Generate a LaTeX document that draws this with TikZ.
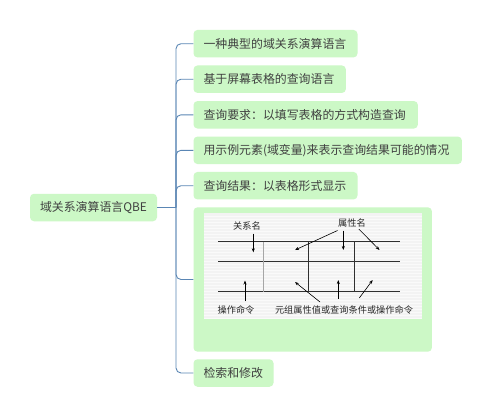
\documentclass[tikz,border=0pt]{standalone}
\usepackage{fontspec}
\setmainfont{Noto Sans CJK SC}
\newfontfamily\cjk{Noto Sans CJK SC}
\usetikzlibrary{arrows.meta}
\definecolor{boxgreen}{HTML}{CCF8C6}
\definecolor{conncol}{HTML}{5A86B4}
\definecolor{txtcol}{HTML}{404040}
\definecolor{figbg}{HTML}{F3F3F3}
\definecolor{figline}{HTML}{303030}
\tikzset{
  topicbox/.style={draw=none, fill=boxgreen, rounded corners=4pt, anchor=west,
    minimum height=27.5pt, inner xsep=10pt, inner ysep=0pt, align=left,
    text=txtcol, font=\cjk\fontsize{11.9}{13.5}\selectfont},
  conn/.style={draw=conncol, line width=0.9pt, rounded corners=5pt},
  tline/.style={draw=figline, line width=1.1pt},
  vline/.style={draw=figline, line width=0.8pt},
  figarrow/.style={draw=black, line width=0.6pt, -{Stealth[length=4pt,width=3pt]}},
  figlabel/.style={font=\cjk\fontsize{9.2}{10}\selectfont, text=black!85, inner sep=0pt}
}
\begin{document}
\begin{tikzpicture}[x=1pt,y=-1pt]
\useasboundingbox (0,0) rectangle (492,418);
\fill[white] (0,0) rectangle (492,418);

% root
\node[topicbox, anchor=center, minimum width=127pt] (root) at (93.5,207.5) {域关系演算语言QBE};
\coordinate (sp) at (176,207.5);

% children
\node[topicbox, text width=144pt] (c1) at (193.3,43.7) {一种典型的域关系演算语言};
\node[topicbox, text width=132.4pt] (c2) at (193.3,79.2) {基于屏幕表格的查询语言};
\node[topicbox, text width=204.4pt] (c3) at (193.3,114.8) {查询要求：以填写表格的方式构造查询};
\node[topicbox, text width=248.4pt] (c4) at (193.3,150.3) {用示例元素(域变量)来表示查询结果可能的情况};
\node[topicbox, text width=144pt] (c5) at (193.3,185.7) {查询结果：以表格形式显示};
\node[topicbox, minimum width=238.4pt, minimum height=144.4pt] (c6) at (193.3,279.5) {};
\node[topicbox, text width=60pt] (c7) at (193.3,373) {检索和修改};

% connectors
\draw[conn] (root.east) -- (sp);
\foreach \c in {c1,c2,c3,c4,c5,c6,c7}{
  \draw[conn] (sp) |- (\c.west);
}

% embedded figure
\fill[figbg] (204,213) rectangle (422,319);
\foreach \yy in {216,219,...,318}{
  \draw[white!60!figbg, line width=0.4pt] (204,\yy) -- (422,\yy);
}
\coordinate (h1a) at (218,241.7); \coordinate (h1b) at (400,241.7);
\coordinate (h2a) at (218,261.7); \coordinate (h2b) at (400,261.7);
\coordinate (h3a) at (218,291.7); \coordinate (h3b) at (400,291.7);
\draw[tline] (h1a) -- (h1b);
\draw[tline] (h2a) -- (h2b);
\draw[tline] (h3a) -- (h3b);
\draw[draw=gray!70, line width=0.9pt] (263,241.7) -- (263,291.7);
\draw[vline] (308.3,241.7) -- (308.3,291.7);
\draw[vline] (354.3,241.7) -- (354.3,291.7);

\node[figlabel] (lrel) at (247,226) {关系名};
\node[figlabel] (lattr) at (352,223) {属性名};
\node[figlabel] (lop) at (236,309.5) {操作命令};
\node[figlabel] (ltup) at (344,310) {元组属性值或查询条件或操作命令};

\coordinate (a1s) at (253.3,233.5); \coordinate (a1e) at (253.3,252.3);
\draw[figarrow] (a1s) -- (a1e);
\coordinate (a2s) at (337.5,230.5); \coordinate (a2e) at (295,250);
\draw[figarrow] (a2s) -- (a2e);
\coordinate (a3s) at (343.3,230.5); \coordinate (a3e) at (343.3,250);
\draw[figarrow] (a3s) -- (a3e);
\coordinate (a4s) at (358.8,229); \coordinate (a4e) at (379.5,250);
\draw[figarrow] (a4s) -- (a4e);
\coordinate (a5s) at (245,301); \coordinate (a5e) at (245,280.5);
\draw[figarrow] (a5s) -- (a5e);
\coordinate (a6s) at (320,302); \coordinate (a6e) at (295,282);
\draw[figarrow] (a6s) -- (a6e);
\coordinate (a7s) at (338.3,298.5); \coordinate (a7e) at (338.3,280);
\draw[figarrow] (a7s) -- (a7e);
\coordinate (a8s) at (359.3,298); \coordinate (a8e) at (372.7,280);
\draw[figarrow] (a8s) -- (a8e);
\end{tikzpicture}
\end{document}
